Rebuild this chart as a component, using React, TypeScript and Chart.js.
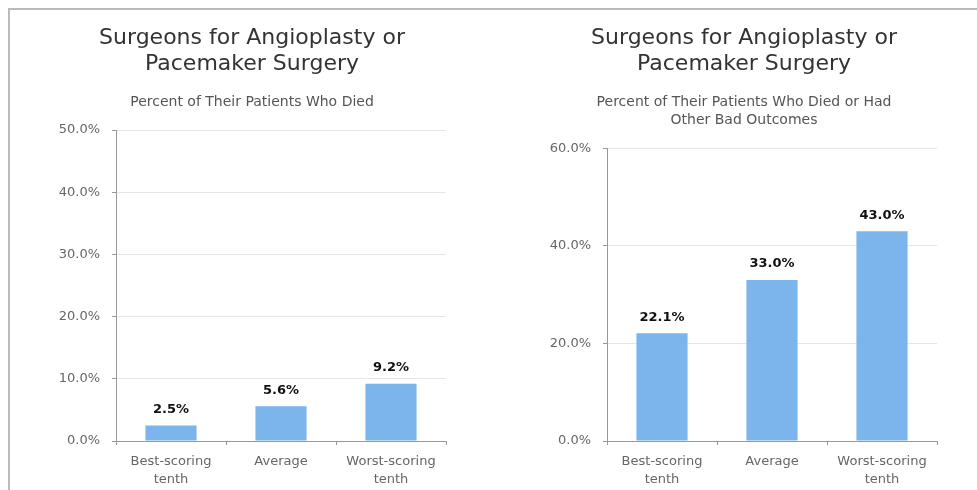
import React, { useEffect, useRef } from 'react';
import { Chart, registerables } from 'chart.js';

Chart.register(...registerables);

const categories: (string | string[])[] = [['Best-scoring', 'tenth'], 'Average', ['Worst-scoring', 'tenth']];
const diedValues = [2.5, 5.6, 9.2];
const badOutcomeValues = [22.1, 33.0, 43.0];
const titleLines = ['Surgeons for Angioplasty or', 'Pacemaker Surgery'];
const leftSubtitle = ['Percent of Their Patients Who Died'];
const rightSubtitle = ['Percent of Their Patients Who Died or Had', 'Other Bad Outcomes'];
const leftYMax = 50;
const leftYStep = 10;
const rightYMax = 60;
const rightYStep = 20;

const FONT = '"DejaVu Sans", Verdana, sans-serif';
const BAR_COLOR = '#7cb5ec';

const dataLabelPlugin = {
  id: 'barValueLabels',
  afterDatasetsDraw(chart: any) {
    const ctx = chart.ctx;
    const meta = chart.getDatasetMeta(0);
    const data = chart.data.datasets[0].data as number[];
    ctx.save();
    ctx.font = `bold 13px ${FONT}`;
    ctx.fillStyle = '#111';
    ctx.textAlign = 'center';
    ctx.textBaseline = 'middle';
    meta.data.forEach((bar: any, i: number) => {
      ctx.fillText(data[i].toFixed(1) + '%', bar.x, bar.y - 16);
    });
    ctx.restore();
  },
};

type PanelProps = {
  left: number;
  width: number;
  values: number[];
  subtitle: string[];
  yMax: number;
  yStep: number;
  yWidth: number;
  y2Width: number;
};

function ChartPanel({ left, width, values, subtitle, yMax, yStep, yWidth, y2Width }: PanelProps) {
  const ref = useRef<HTMLCanvasElement | null>(null);
  useEffect(() => {
    if (!ref.current) return;
    const chart = new Chart(ref.current, {
      type: 'bar',
      data: {
        labels: categories,
        datasets: [
          {
            data: values,
            backgroundColor: BAR_COLOR,
            borderWidth: 0,
            barPercentage: 0.465,
            categoryPercentage: 1,
          },
        ],
      },
      options: {
        animation: false,
        responsive: false,
        devicePixelRatio: 1,
        events: [],
        layout: { padding: 0 },
        plugins: {
          legend: { display: false },
          tooltip: { enabled: false },
          title: {
            display: true,
            text: titleLines,
            color: '#333333',
            font: { family: FONT, size: 22, weight: 'normal', lineHeight: 1.18 },
            padding: { top: 15, bottom: 8 },
          },
          subtitle: {
            display: true,
            text: subtitle,
            color: '#555555',
            font: { family: FONT, size: 14, weight: 'normal', lineHeight: 1.3 },
            padding: { top: 8, bottom: 19 },
          },
        },
        scales: {
          x: {
            offset: true,
            grid: {
              offset: true,
              drawOnChartArea: false,
              drawTicks: true,
              tickLength: 4,
              tickColor: '#999999',
            },
            border: { display: true, color: '#999999', width: 1 },
            ticks: {
              color: '#666666',
              font: { family: FONT, size: 13, lineHeight: 1.35 },
              padding: 8,
              maxRotation: 0,
              autoSkip: false,
            },
            afterFit: (s: any) => {
              s.height = 49;
            },
          },
          y: {
            min: 0,
            max: yMax,
            ticks: {
              stepSize: yStep,
              color: '#666666',
              font: { family: FONT, size: 13 },
              padding: 12,
              callback: (v: any) => Number(v).toFixed(1) + '%',
            },
            grid: {
              color: '#e6e6e6',
              tickColor: '#999999',
              tickLength: 4,
            },
            border: { display: true, color: '#999999', width: 1 },
            afterFit: (s: any) => {
              s.width = yWidth;
            },
          },
          y2: {
            position: 'right',
            display: true,
            grid: { display: false, drawTicks: false },
            border: { display: false },
            ticks: { display: false },
            afterFit: (s: any) => {
              s.width = y2Width;
            },
          },
        },
      } as any,
      plugins: [dataLabelPlugin],
    });
    return () => chart.destroy();
  }, []);
  return (
    <canvas
      ref={ref}
      width={width}
      height={480}
      style={{ position: 'absolute', left, top: 0, width, height: 480, display: 'block' }}
    />
  );
}

export default function App() {
  return (
    <div
      style={{
        position: 'fixed',
        left: 8,
        top: 8,
        right: 0,
        bottom: 0,
        overflow: 'hidden',
        borderTop: '2px solid #bbbbbb',
        borderLeft: '2px solid #bbbbbb',
        boxSizing: 'border-box',
        background: '#ffffff',
      }}
    >
      <ChartPanel left={0} width={484} values={diedValues} subtitle={leftSubtitle} yMax={leftYMax} yStep={leftYStep} yWidth={106} y2Width={48} />
      <ChartPanel left={486} width={496} values={badOutcomeValues} subtitle={rightSubtitle} yMax={rightYMax} yStep={rightYStep} yWidth={111} y2Width={55} />
    </div>
  );
}
